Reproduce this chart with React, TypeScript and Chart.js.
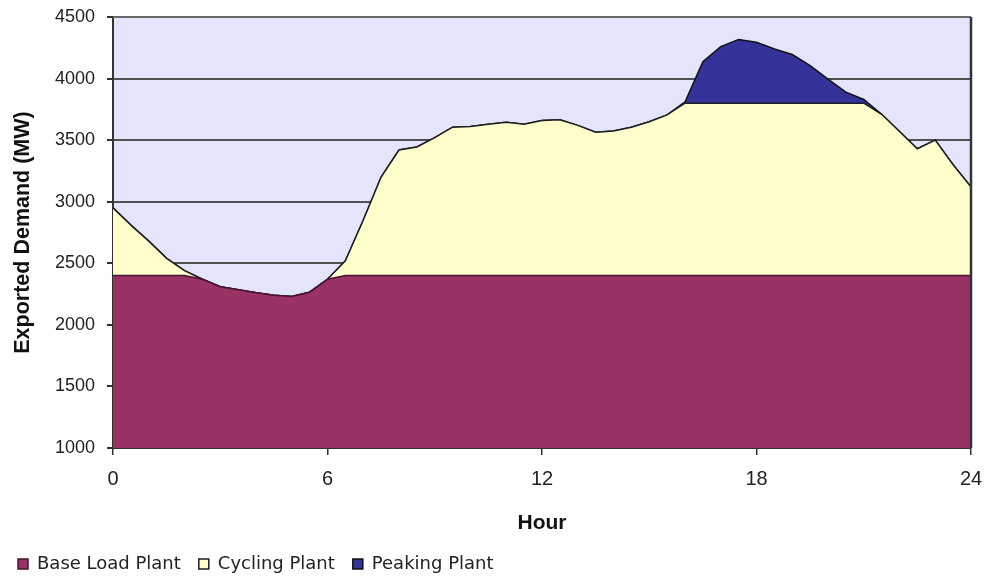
import React, { useEffect, useRef } from "react";
import { Chart, registerables } from "chart.js";

Chart.register(...registerables);

// Hour of day (half-hour steps)
const hours = [
  0, 0.5, 1, 1.5, 2, 2.5, 3, 3.5, 4, 4.5, 5, 5.5, 6, 6.5, 7, 7.5, 8, 8.5, 9, 9.5,
  10, 10.5, 11, 11.5, 12, 12.5, 13, 13.5, 14, 14.5, 15, 15.5, 16, 16.5, 17, 17.5,
  18, 18.5, 19, 19.5, 20, 20.5, 21, 21.5, 22, 22.5, 23, 23.5, 24,
];

// Base load plant output (MW)
const baseLoad = [
  2400, 2400, 2400, 2400, 2400, 2370, 2310, 2285, 2260, 2240, 2230, 2265, 2370, 2400,
  2400, 2400, 2400, 2400, 2400, 2400, 2400, 2400, 2400, 2400, 2400, 2400, 2400, 2400,
  2400, 2400, 2400, 2400, 2400, 2400, 2400, 2400, 2400, 2400, 2400, 2400, 2400, 2400,
  2400, 2400, 2400, 2400, 2400, 2400, 2400,
];

// Cycling plant output stacked on top of base load (MW)
const cyclingPlant = [
  550, 410, 280, 140, 40, 0, 0, 0, 0, 0, 0, 0, 0, 120, 450, 800, 1020, 1045, 1120, 1205,
  1210, 1230, 1245, 1230, 1260, 1265, 1220, 1165, 1175, 1205, 1250, 1305, 1400, 1400,
  1400, 1400, 1400, 1400, 1400, 1400, 1400, 1400, 1400, 1310, 1170, 1030, 1100, 900, 720,
];

// Peaking plant output stacked on top (MW)
const peakingPlant = [
  0, 0, 0, 0, 0, 0, 0, 0, 0, 0, 0, 0, 0, 0, 0, 0, 0, 0, 0, 0,
  0, 0, 0, 0, 0, 0, 0, 0, 0, 0, 0, 0, 10, 337, 460, 518, 495, 440, 395, 305,
  195, 90, 30, 0, 0, 0, 0, 0, 0,
];

const xTicks = [0, 6, 12, 18, 24];
const yTicks = [1000, 1500, 2000, 2500, 3000, 3500, 4000, 4500];

const toPoints = (vals: number[]) => hours.map((h, i) => ({ x: h, y: vals[i] }));

const plotFrame = {
  id: "plotFrame",
  beforeDraw(chart: any) {
    const { ctx, chartArea: a } = chart;
    ctx.save();
    ctx.fillStyle = "#E4E4FA";
    ctx.fillRect(a.left, a.top, a.right - a.left, a.bottom - a.top);
    ctx.restore();
  },
  afterDatasetsDraw(chart: any) {
    const { ctx, chartArea: a } = chart;
    ctx.save();
    ctx.lineWidth = 2;
    ctx.strokeStyle = "#6a6a6a";
    ctx.beginPath();
    ctx.moveTo(a.left, a.top);
    ctx.lineTo(a.right, a.top);
    ctx.stroke();
    ctx.strokeStyle = "#333333";
    ctx.lineWidth = 2.5;
    ctx.beginPath();
    ctx.moveTo(a.right, a.top);
    ctx.lineTo(a.right, a.bottom);
    ctx.stroke();
    ctx.restore();
  },
};

export default function App() {
  const ref = useRef<HTMLCanvasElement | null>(null);

  useEffect(() => {
    if (!ref.current) return;
    const chart = new Chart(ref.current, {
      type: "line",
      data: {
        datasets: [
          {
            label: "Base Load Plant",
            data: toPoints(baseLoad),
            backgroundColor: "#993366",
            borderColor: "#4a1430",
            borderWidth: 1.5,
            fill: "start",
            pointRadius: 0,
            tension: 0,
          },
          {
            label: "Cycling Plant",
            data: toPoints(cyclingPlant),
            backgroundColor: "#FFFFCC",
            borderColor: "#1e1e28",
            borderWidth: 1.5,
            fill: "-1",
            pointRadius: 0,
            tension: 0,
          },
          {
            label: "Peaking Plant",
            data: toPoints(peakingPlant),
            backgroundColor: "#333399",
            borderColor: "#111111",
            borderWidth: 1.5,
            fill: "-1",
            pointRadius: 0,
            tension: 0,
          },
        ],
      },
      options: {
        animation: false,
        responsive: false,
        events: [],
        layout: { padding: { top: 17, right: 13, left: 0, bottom: 0 } },
        plugins: {
          tooltip: { enabled: false },
          legend: {
            position: "bottom",
            align: "start",
            maxHeight: 44,
            labels: {
              boxWidth: 10,
              boxHeight: 10,
              padding: 18,
              color: "#222",
              font: { family: "'DejaVu Sans', sans-serif", size: 18 },
            },
          },
        },
        scales: {
          x: {
            type: "linear",
            min: 0,
            max: 24,
            afterBuildTicks: (s: any) => {
              s.ticks = xTicks.map((v) => ({ value: v }));
            },
            afterFit: (s: any) => {
              s.height = 89;
              s.paddingLeft = 0;
              s.paddingRight = 0;
            },
            ticks: {
              color: "#222",
              padding: 12,
              maxRotation: 0,
              callback: (v: any) => String(v),
              font: { family: "'Liberation Sans', Arial, sans-serif", size: 20 },
            },
            grid: {
              display: true,
              drawOnChartArea: false,
              drawTicks: true,
              tickLength: 7,
              color: "#333",
              lineWidth: 1.5,
            },
            border: { display: true, color: "#333", width: 2 },
            title: {
              display: true,
              text: "Hour",
              color: "#111",
              padding: { top: 0, bottom: 1 },
              font: { family: "'Liberation Sans', Arial, sans-serif", size: 21, weight: "bold" },
            },
          },
          y: {
            stacked: true,
            min: 1000,
            max: 4500,
            afterBuildTicks: (s: any) => {
              s.ticks = yTicks.map((v) => ({ value: v }));
            },
            afterFit: (s: any) => {
              s.width = 113;
              s.paddingTop = 0;
              s.paddingBottom = 0;
            },
            ticks: {
              color: "#222",
              padding: 12,
              callback: (v: any) => String(v),
              font: { family: "'Liberation Sans', Arial, sans-serif", size: 18 },
            },
            grid: {
              color: "#505050",
              lineWidth: 2,
              tickLength: 6,
              tickColor: "#333",
            },
            border: { display: true, color: "#333", width: 2 },
            title: {
              display: true,
              text: "Exported Demand (MW)",
              color: "#111",
              padding: { top: 10, bottom: 0 },
              font: { family: "'Liberation Sans', Arial, sans-serif", size: 21.5, weight: "bold" },
            },
          },
        },
      },
      plugins: [plotFrame],
    });
    return () => chart.destroy();
  }, []);

  return (
    <div style={{ position: "fixed", left: 0, top: 0, width: 984, height: 581, background: "#fff" }}>
      <canvas ref={ref} width={984} height={581} style={{ display: "block" }} />
    </div>
  );
}
